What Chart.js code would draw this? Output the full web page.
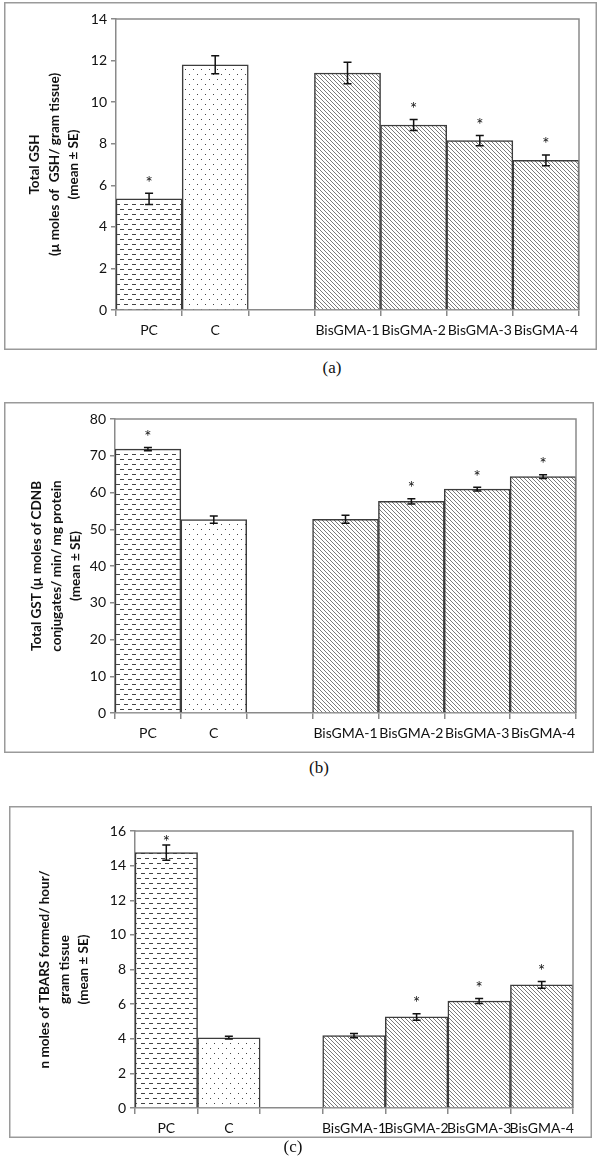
<!DOCTYPE html>
<html>
<head>
<meta charset="utf-8">
<script src="https://cdn.jsdelivr.net/npm/chart.js@4.4.1/dist/chart.umd.min.js"></script>
<style>
  body { margin: 0; background: #fff; }
  #page { position: relative; width: 600px; height: 1160px; }
  .panel { position: absolute; }
  .cap { position: absolute; font-family: "Liberation Serif", serif; font-size: 17px; color: #111; transform: translateX(-50%); }
</style>
</head>
<body>
<div id="page">
  <div class="panel" style="left:4px;top:2px;"><canvas id="chartA" width="593" height="348"></canvas></div>
  <div class="cap" style="left:332px;top:358px;">(a)</div>
  <div class="panel" style="left:4px;top:402px;"><canvas id="chartB" width="590" height="351"></canvas></div>
  <div class="cap" style="left:319px;top:758px;">(b)</div>
  <div class="panel" style="left:9px;top:806px;"><canvas id="chartC" width="583" height="332"></canvas></div>
  <div class="cap" style="left:293px;top:1137px;">(c)</div>
</div>
<script>
// categories (blank slot separates the controls from the BisGMA groups)
const labels = ["PC", "C", "", "BisGMA-1", "BisGMA-2", "BisGMA-3", "BisGMA-4"];

// (a) Total GSH
const gshMean = [5.35, 11.8, null, 11.4, 8.9, 8.15, 7.2];
const gshSE = [0.27, 0.43, null, 0.52, 0.27, 0.25, 0.26];
const gshSig = [true, false, false, false, true, true, true];

// (b) Total GST
const gstMean = [71.8, 52.6, null, 52.7, 57.6, 60.9, 64.3];
const gstSE = [0.45, 1.0, null, 1.1, 0.7, 0.5, 0.5];
const gstSig = [true, false, false, false, true, true, true];

// (c) TBARS
const tbarsMean = [14.75, 4.06, null, 4.18, 5.26, 6.18, 7.11];
const tbarsSE = [0.44, 0.08, null, 0.12, 0.19, 0.14, 0.19];
const tbarsSig = [true, false, false, false, true, true, true];

const ink = "#3c3c3c";

function makePattern(w, h, color, draw) {
  const c = document.createElement("canvas");
  c.width = w; c.height = h;
  const g = c.getContext("2d");
  g.fillStyle = "#fff";
  g.fillRect(0, 0, w, h);
  g.fillStyle = color;
  draw(g);
  return document.createElement("canvas").getContext("2d").createPattern(c, "repeat");
}

// horizontal dashes for PC
const dashFill = makePattern(8, 10, "#444", g => {
  g.fillRect(0, 2, 4, 1);
  g.fillRect(4, 7, 4, 1);
});
// dots for C
const dotFill = makePattern(8, 10, "#444", g => {
  g.fillRect(1, 2, 1, 1);
  g.fillRect(5, 7, 1, 1);
});
// diagonal lines for BisGMA groups
const diagFill = makePattern(4, 4, "#7a7a7a", g => {
  for (let i = 0; i < 4; i++) g.fillRect(i, i, 1, 1);
});
const fills = [dashFill, dotFill, "#fff", diagFill, diagFill, diagFill, diagFill];

// error bars, asterisks, frame and plot border
const extrasPlugin = {
  id: "extras",
  afterDatasetsDraw(chart, args, opts) {
    const { ctx, chartArea: a, scales: { x, y } } = chart;
    ctx.save();
    // plot area top/right border
    ctx.strokeStyle = "#8a8a8a";
    ctx.lineWidth = 1.5;
    ctx.beginPath();
    ctx.moveTo(a.left, a.top);
    ctx.lineTo(a.right, a.top);
    ctx.lineTo(a.right, a.bottom);
    ctx.stroke();
    // outer frame
    ctx.strokeStyle = "#9a9a9a";
    ctx.strokeRect(0.75, 0.75, chart.width - 1.5, chart.height - 1.5);

    opts.mean.forEach((m, i) => {
      if (m == null) return;
      const cx = x.getPixelForValue(i);
      const top = y.getPixelForValue(m + opts.se[i]);
      const bot = y.getPixelForValue(m - opts.se[i]);
      ctx.strokeStyle = "#111";
      ctx.lineWidth = 1.5;
      ctx.beginPath();
      ctx.moveTo(cx, top); ctx.lineTo(cx, bot);
      ctx.moveTo(cx - 4, top); ctx.lineTo(cx + 4, top);
      ctx.moveTo(cx - 4, bot); ctx.lineTo(cx + 4, bot);
      ctx.stroke();
      if (opts.sig[i]) {
        const sy = Math.max(top - 14, a.top + 8);
        ctx.fillStyle = "#111";
        ctx.font = "17px Lato";
        ctx.textAlign = "center";
        ctx.textBaseline = "middle";
        ctx.fillText("*", cx, sy + 4);
      }
    });
    ctx.restore();
  }
};

function makeChart(id, mean, se, sig, yMax, yStep, title, box) {
  new Chart(document.getElementById(id), {
    type: "bar",
    data: {
      labels: labels,
      datasets: [{
        data: mean,
        backgroundColor: fills,
        borderColor: ink,
        borderWidth: 1.5,
        barPercentage: 1,
        categoryPercentage: 1
      }]
    },
    options: {
      responsive: false,
      animation: false,
      layout: { padding: { top: box.top, right: box.right, left: 0, bottom: 0 } },
      plugins: {
        legend: { display: false },
        tooltip: { enabled: false },
        extras: { mean: mean, se: se, sig: sig }
      },
      scales: {
        x: {
          grid: { drawOnChartArea: false, tickLength: 6, color: "#8a8a8a", lineWidth: 1.5 },
          border: { color: "#8a8a8a", width: 1.5 },
          ticks: { color: "#111", padding: 6, font: { family: "Lato", size: 14 }, maxRotation: 0, autoSkip: false },
          afterFit: s => { s.height = box.xh; }
        },
        y: {
          min: 0, max: yMax,
          ticks: { stepSize: yStep, color: "#111", padding: 4, font: { family: "Lato", size: 14 } },
          grid: { drawOnChartArea: false, tickLength: 5, color: "#8a8a8a", lineWidth: 1.5 },
          border: { color: "#8a8a8a", width: 1.5 },
          title: {
            display: true,
            text: title,
            color: "#111",
            font: { family: "Lato", size: 13.5, weight: "bold", lineHeight: 1.45 },
            padding: { top: box.tp, bottom: 0 }
          },
          afterFit: s => { s.width = box.yw; }
        }
      }
    },
    plugins: [extrasPlugin]
  });
}

makeChart("chartA", gshMean, gshSE, gshSig, 14, 2,
  ["Total GSH", "(\u00b5 moles of  GSH/ gram tissue)", "(mean \u00b1 SE)"],
  { top: 17, right: 18, xh: 40, yw: 112, tp: 21 });

makeChart("chartB", gstMean, gstSE, gstSig, 80, 10,
  ["Total GST (\u00b5 moles of CDNB", "conjugates/ min/ mg protein", "(mean \u00b1 SE)"],
  { top: 17, right: 18, xh: 40, yw: 111, tp: 23 });

makeChart("chartC", tbarsMean, tbarsSE, tbarsSig, 16, 2,
  ["n moles of TBARS formed/ hour/", "gram tissue", "(mean \u00b1 SE)"],
  { top: 25, right: 19, xh: 30, yw: 126, tp: 26 });
</script>
</body>
</html>
